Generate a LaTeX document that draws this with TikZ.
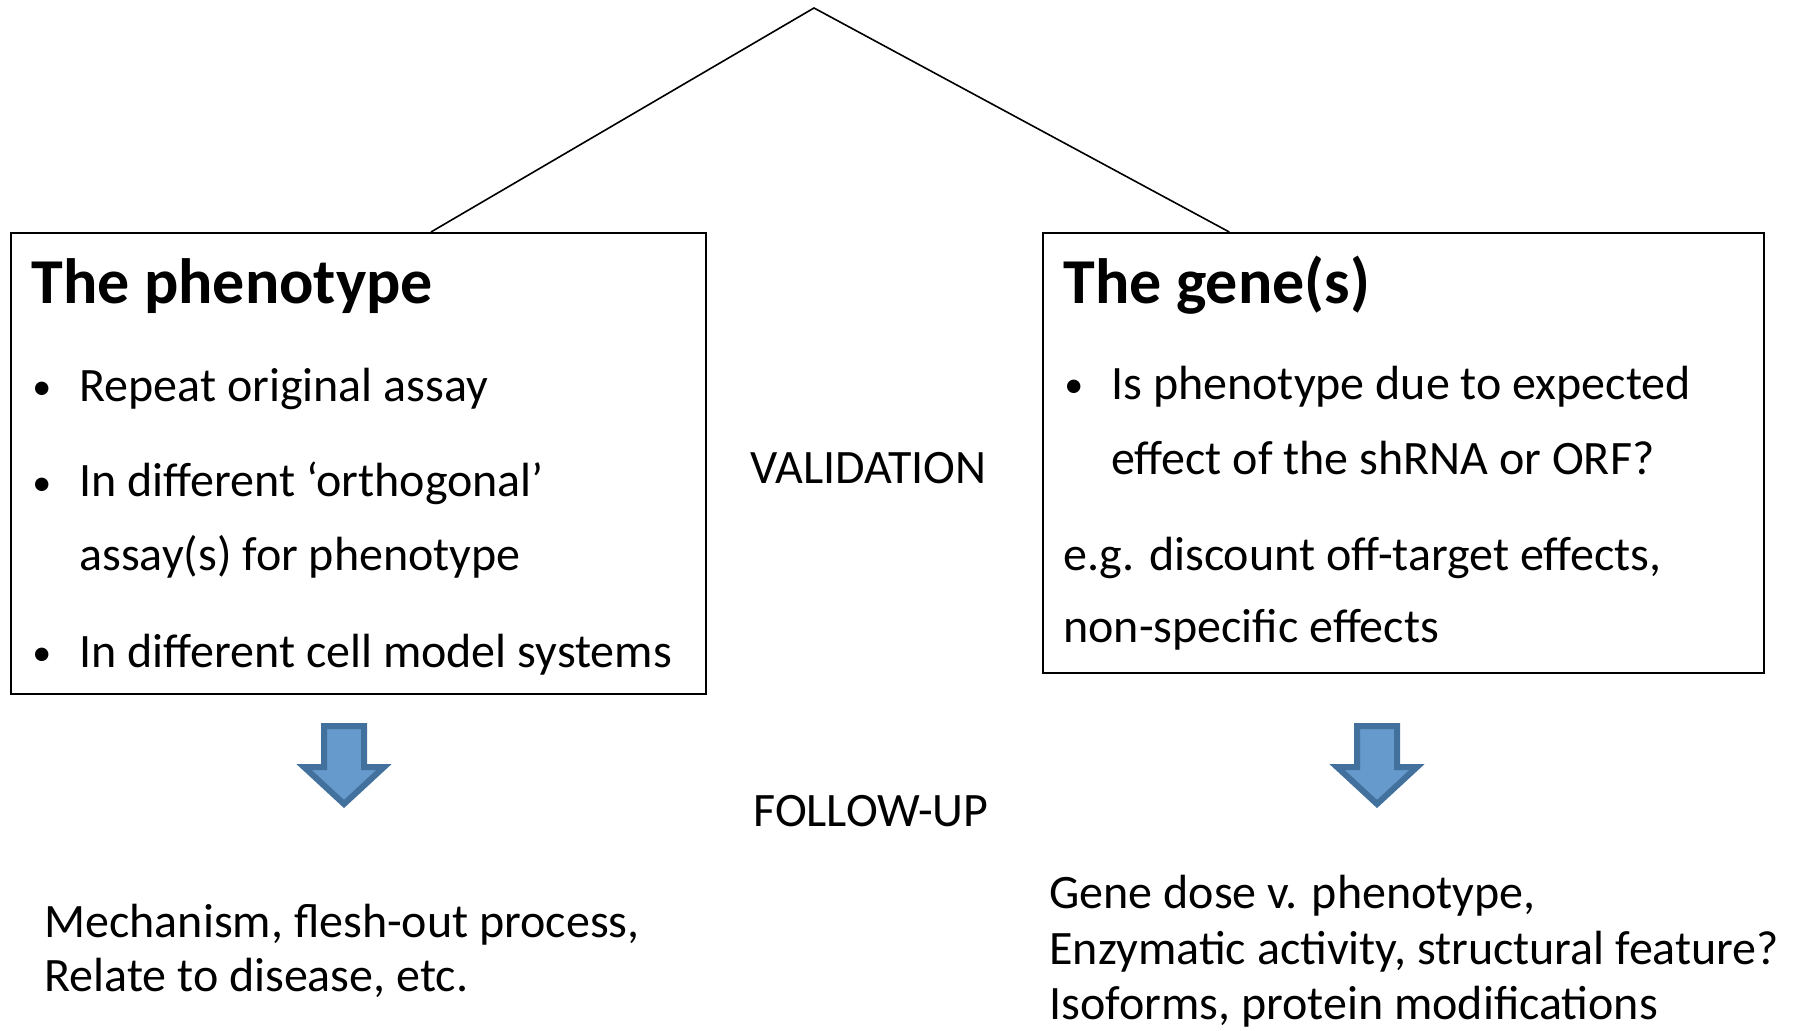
\documentclass[tikz,border=0pt]{standalone}
\usepackage{fontspec}
\setmainfont{Carlito}
\usetikzlibrary{calc}
\definecolor{arrowfill}{HTML}{6699CC}
\definecolor{arrowline}{HTML}{41719C}
\begin{document}
\begin{tikzpicture}[x=0.5pt,y=-0.5pt,
  box/.style={draw=black,line width=1pt,anchor=north west,inner sep=0pt},
  txt/.style={anchor=base west,inner sep=0pt,font=\fontsize{24}{28}\selectfont},
  bul/.style={anchor=base west,inner sep=0pt,font=\fontsize{19}{22}\selectfont},
  ttl/.style={anchor=base west,inner sep=0pt,font=\fontsize{32}{38}\selectfont\bfseries},
  conn/.style={draw=black,line width=0.8pt},
  bigarrow/.style={fill=arrowfill,draw=arrowline,line width=3pt,line join=miter}]
\useasboundingbox (0,0) rectangle (1803,1031);
% boxes
\node[box,minimum width=347.5pt,minimum height=230.5pt] (lbox) at (10,232) {};
\node[box,minimum width=360.5pt,minimum height=220pt] (rbox) at (1042,232) {};
% apex lines
\coordinate (apex) at (814,8);
\draw[conn] ($(lbox.north west)!0.604!(lbox.north east)$) -- (apex) -- ($(rbox.north west)!0.259!(rbox.north east)$);
% left box text
\node[ttl] (lt) at (31,304) {The phenotype};
\node[bul] (lb1) at (32,400) {•};
\node[txt] (l1) at (79,402) {Repeat original assay};
\node[bul] (lb2) at (32,495) {•};
\node[txt] (l2) at (79,497) {In different ‘orthogonal’};
\node[txt] (l3) at (79,570) {assay(s) for phenotype};
\node[bul] (lb3) at (32,665) {•};
\node[txt] (l4) at (79,667) {In different cell model systems};
% right box text
\node[ttl] (rt) at (1063,304) {The gene(s)};
\node[bul] (rb1) at (1064,398) {•};
\node[txt] (r1) at (1111,400) {Is phenotype due to expected};
\node[txt] (r2) at (1111,475) {effect of the shRNA or ORF?};
\node[txt] (r3) at (1063,570) {e.g. discount off-target effects,};
\node[txt] (r4) at (1063,642) {non-specific effects};
% middle labels
\node[txt] (val) at (750,484) {VALIDATION};
\node[txt] (fol) at (753,826) {FOLLOW-UP};
% arrows
\draw[bigarrow] (324,726) -- (364,726) -- (364,767) -- (384,767) -- (344,804) -- (304,767) -- (324,767) -- cycle;
\draw[bigarrow] (1357,726) -- (1397,726) -- (1397,767) -- (1417,767) -- (1377,804) -- (1337,767) -- (1357,767) -- cycle;
% bottom texts
\node[txt] (m1) at (44,937) {Mechanism, flesh-out process,};
\node[txt] (m2) at (44,991) {Relate to disease, etc.};
\node[txt] (g1) at (1049,908) {Gene dose v. phenotype,};
\node[txt] (g2) at (1049,964) {Enzymatic activity, structural feature?};
\node[txt] (g3) at (1049,1019) {Isoforms, protein modifications};
\end{tikzpicture}
\end{document}
